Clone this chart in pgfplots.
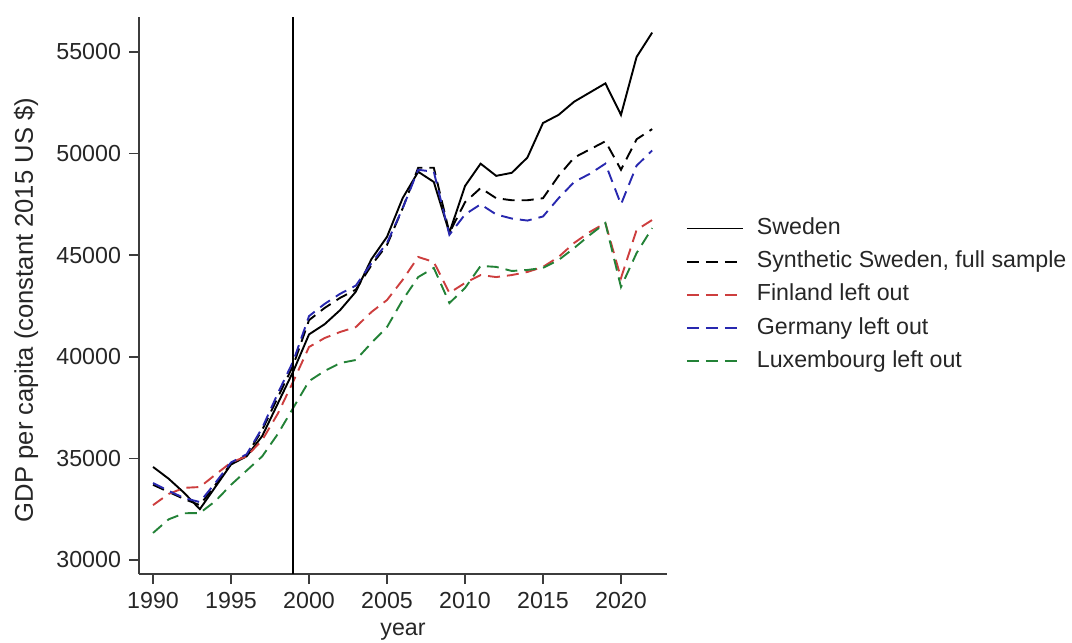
\documentclass[border=0pt]{standalone}
\usepackage{pgfplots}
\pgfplotsset{compat=1.18}
\usepackage{fontspec}
\setmainfont{Liberation Sans}

\definecolor{sred}{RGB}{205,62,62}
\definecolor{sblue}{RGB}{40,40,175}
\definecolor{sgreen}{RGB}{35,130,55}
\definecolor{axisgrey}{RGB}{60,60,60}

% GDP per capita (constant 2015 US$), 1990--2022
\pgfplotstableread{
year sweden synth finland germany luxembourg
1990 34580 33700 32700 33790 31330
1991 34000 33350 33250 33400 32000
1992 33300 33000 33550 33050 32300
1993 32500 32700 33590 32850 32310
1994 33600 33700 34200 33800 32900
1995 34700 34750 34800 34800 33700
1996 35100 35150 35100 35200 34400
1997 36100 36400 35900 36500 35100
1998 37700 38000 37200 38200 36200
1999 39300 39600 38800 39800 37500
2000 41100 41800 40480 42000 38800
2001 41600 42400 40920 42600 39300
2002 42300 42900 41220 43100 39690
2003 43200 43300 41460 43500 39840
2004 44800 44500 42200 44600 40680
2005 45900 45500 42790 45600 41460
2006 47800 47300 43780 47300 42790
2007 49100 49300 44910 49200 43920
2008 48600 49300 44660 49100 44370
2009 46100 46100 43140 46000 42640
2010 48400 47600 43630 47000 43380
2011 49500 48300 44020 47500 44470
2012 48900 47800 43920 47000 44420
2013 49050 47700 44020 46800 44220
2014 49800 47700 44170 46700 44270
2015 51500 47800 44420 46900 44370
2016 51900 48900 44910 47800 44760
2017 52550 49800 45600 48600 45350
2018 53000 50200 46140 49000 45990
2019 53450 50600 46580 49500 46580
2020 51900 49200 43870 47500 43430
2021 54750 50700 46240 49400 45100
2022 55950 51200 46730 50150 46330
}\gdp

\begin{document}
\fontsize{11.5bp}{13.8bp}\selectfont
\begin{tikzpicture}
\path[use as bounding box] (-69.5bp,-34.5bp) rectangle (466.5bp,287bp);
\begin{axis}[
  scale only axis,
  width=264bp, height=278.5bp,
  xmin=1989.1, xmax=2022.95,
  ymin=29311, ymax=56716,
  axis x line*=bottom, axis y line*=left,
  axis line style={line width=0.8bp, axisgrey},
  every tick/.style={line width=0.8bp, axisgrey},
  tick align=outside,
  major tick length=5bp,
  xtick={1990,1995,...,2020},
  ytick={30000,35000,...,55000},
  scaled y ticks=false,
  /pgf/number format/assume math mode=true,
  /pgf/number format/1000 sep={},
  tick label style={font=\fontsize{11.6bp}{13.8bp}\selectfont, text=black!85},
  xlabel={year},
  ylabel={GDP per capita (constant 2015 US \$)},
  xlabel style={at={(axis description cs:0.5,-0.104)}, anchor=center,
                font=\fontsize{11.6bp}{13.8bp}\selectfont, text=black!85},
  ylabel style={at={(axis description cs:-0.214,0.474)}, anchor=center,
                font=\fontsize{12.8bp}{15bp}\selectfont, text=black!85},
  legend style={at={(axis description cs:1.036,0.640)}, anchor=north west,
                draw=none, fill=none, inner sep=0pt, outer sep=0pt,
                row sep=5.6bp, column sep=6.5bp,
                nodes={inner sep=0pt, text height=8.5bp, text depth=2.5bp},
                font=\fontsize{11.6bp}{13.8bp}\selectfont, text=black!85},
  legend cell align=left,
  legend image code/.code={\draw[#1] (0bp,0bp) -- (28bp,0bp);},
  every axis plot/.append style={line width=0.95bp, no marks},
  clip=true,
]
\addplot[black, solid] table[x=year, y=sweden] {\gdp};
\addlegendentry{Sweden}
\addplot[black, dash pattern=on 6bp off 3.5bp] table[x=year, y=synth] {\gdp};
\addlegendentry{Synthetic Sweden, full sample}
\addplot[sred, dash pattern=on 6bp off 3.5bp] table[x=year, y=finland] {\gdp};
\addlegendentry{Finland left out}
\addplot[sblue, dash pattern=on 6bp off 3.5bp] table[x=year, y=germany] {\gdp};
\addlegendentry{Germany left out}
\addplot[sgreen, dash pattern=on 6bp off 3.5bp] table[x=year, y=luxembourg] {\gdp};
\addlegendentry{Luxembourg left out}
% treatment year marker
\addplot[black, solid, line width=0.95bp, forget plot] coordinates {(1999,29311) (1999,56716)};
\end{axis}
\end{tikzpicture}
\end{document}
